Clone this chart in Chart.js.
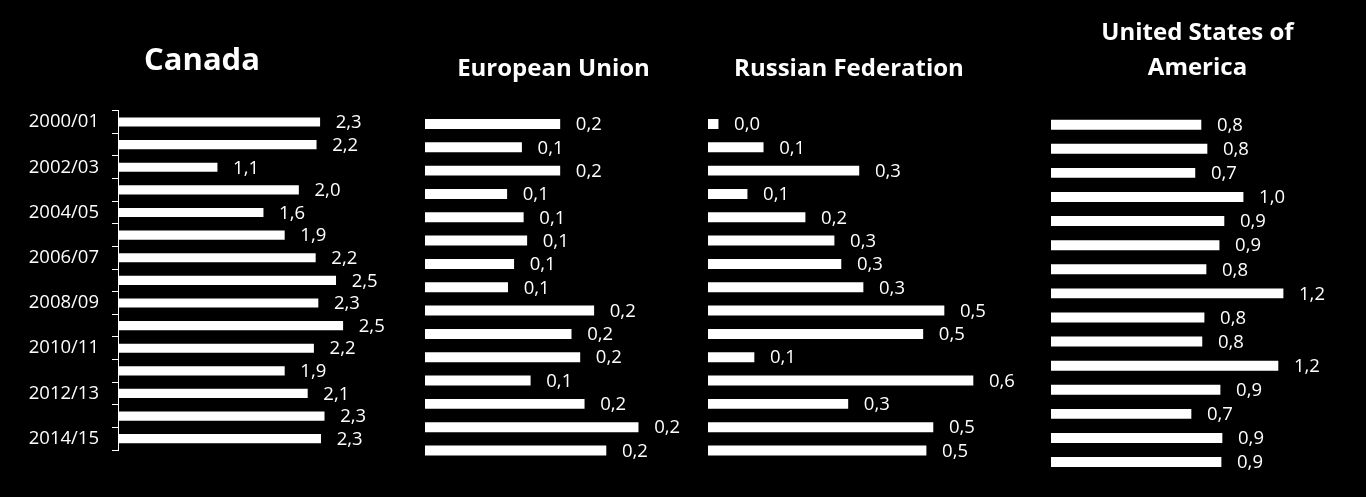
<!DOCTYPE html>
<html><head><meta charset="utf-8">
<script src="https://cdn.jsdelivr.net/npm/chart.js@4.4.1/dist/chart.umd.min.js"></script>
<style>
html,body{margin:0;padding:0;background:#000;width:1366px;height:497px;overflow:hidden}
canvas{position:absolute;top:0}
</style></head><body>
<canvas id="cCanada"></canvas>
<canvas id="cEU"></canvas>
<canvas id="cRussia"></canvas>
<canvas id="cUSA"></canvas>
<script>
const categories = ['2000/01','2001/02','2002/03','2003/04','2004/05','2005/06','2006/07','2007/08','2008/09','2009/10','2010/11','2011/12','2012/13','2013/14','2014/15'];
const canadaValues = [2.28,2.24,1.12,2.04,1.64,1.88,2.23,2.46,2.26,2.54,2.21,1.88,2.14,2.33,2.29];
const euValues = [0.155,0.111,0.155,0.094,0.113,0.117,0.102,0.095,0.194,0.168,0.178,0.121,0.183,0.245,0.208];
const russiaValues = [0.022,0.12,0.328,0.085,0.211,0.274,0.289,0.337,0.513,0.467,0.1,0.576,0.304,0.489,0.474];
const usaValues = [0.769,0.80,0.738,0.985,0.887,0.862,0.795,1.19,0.785,0.774,1.164,0.867,0.718,0.877,0.872];
const panelTitles = ['Canada','European Union','Russian Federation',['United States of','America']];

const FONT = '"Open Sans", "DejaVu Sans", sans-serif';
const TEXT_SIZE = 18.5;

const valueLabels = {
  id: 'valueLabels',
  afterDatasetsDraw(chart) {
    const ctx = chart.ctx;
    const meta = chart.getDatasetMeta(0);
    const data = chart.data.datasets[0].data;
    ctx.save();
    ctx.font = TEXT_SIZE + 'px ' + FONT;
    ctx.fillStyle = '#ffffff';
    ctx.textAlign = 'left';
    ctx.textBaseline = 'middle';
    meta.data.forEach((bar, i) => {
      ctx.fillText(data[i].toFixed(1).replace('.', ','), bar.x + 16, bar.y + 1);
    });
    ctx.restore();
  }
};

function panel(id, cfg) {
  const cv = document.getElementById(id);
  cv.style.left = cfg.left + 'px';
  cv.style.width = cfg.width + 'px';
  cv.style.height = '497px';
  cv.width = cfg.width; cv.height = 497;
  const yScale = cfg.showAxis ? {
    type: 'category',
    display: true,
    offset: true,
    afterFit(s) { s.width = cfg.axisWidth; },
    border: { display: true, color: '#ffffff', width: 1 },
    grid: { display: true, drawOnChartArea: false, drawTicks: true, tickLength: 6, color: '#ffffff', offset: true },
    ticks: {
      autoSkip: false,
      padding: 13,
      color: '#ffffff',
      font: { family: FONT, size: TEXT_SIZE },
      callback(v, i) { return i % 2 === 0 ? categories[i] : ''; }
    }
  } : { type: 'category', display: false, offset: true };
  return new Chart(cv, {
    type: 'bar',
    data: {
      labels: categories,
      datasets: [{ data: cfg.values, backgroundColor: '#ffffff', borderWidth: 0, barThickness: cfg.barThickness }]
    },
    options: {
      indexAxis: 'y',
      responsive: false,
      animation: false,
      devicePixelRatio: 1,
      layout: { padding: cfg.padding },
      scales: {
        x: { type: 'linear', min: 0, max: cfg.max, display: false },
        y: yScale
      },
      plugins: {
        legend: { display: false },
        tooltip: { enabled: false },
        title: {
          display: true,
          text: cfg.title,
          color: '#ffffff',
          font: { family: FONT, weight: 'bold', size: cfg.titleSize, lineHeight: cfg.titleLH },
          padding: cfg.titlePad
        }
      }
    },
    plugins: [valueLabels]
  });
}

panel('cCanada', {
  left: 0, width: 404, values: canadaValues, max: 3.232, showAxis: true, axisWidth: 118,
  barThickness: 8.5, title: panelTitles[0], titleSize: 31, titleLH: 1.2,
  titlePad: { top: 42.4, bottom: 31.1 },
  padding: { left: 0, right: 0, top: 0, bottom: 47 }
});
panel('cEU', {
  left: 420, width: 282, values: euValues, max: 0.2954, showAxis: false,
  barThickness: 9.3, title: panelTitles[1], titleSize: 24, titleLH: 1.2,
  titlePad: { top: 54.9, bottom: 28.6 },
  padding: { left: 5, right: 20, top: 0, bottom: 34.8 }
});
panel('cRussia', {
  left: 700, width: 315, values: russiaValues, max: 0.613, showAxis: false,
  barThickness: 9.3, title: panelTitles[2], titleSize: 24, titleLH: 1.2,
  titlePad: { top: 54.9, bottom: 28.6 },
  padding: { left: 8, right: 25, top: 0, bottom: 34.8 }
});
panel('cUSA', {
  left: 1046, width: 308, values: usaValues, max: 1.5026, showAxis: false,
  barThickness: 9.3, title: panelTitles[3], titleSize: 24, titleLH: 35/24,
  titlePad: { top: 15.3, bottom: 27.35 },
  padding: { left: 5, right: 10, top: 0, bottom: 22.9 }
});
</script>
</body></html>
